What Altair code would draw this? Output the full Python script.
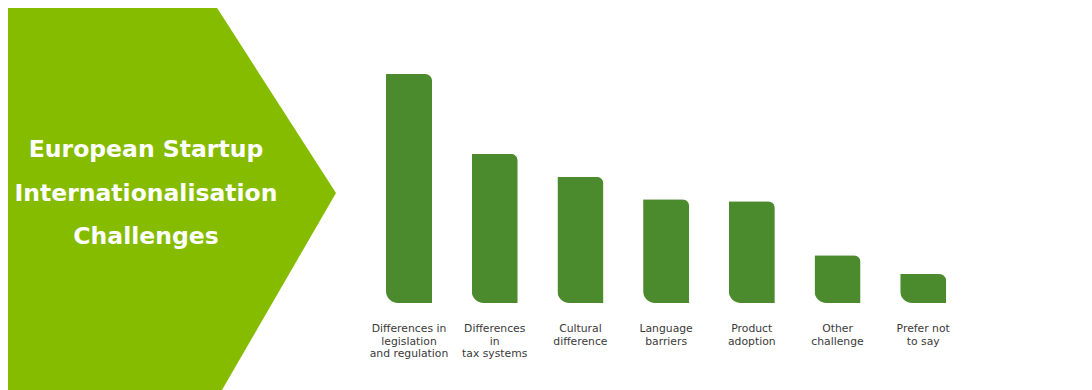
import altair as alt
import pandas as pd

# ---- data ----
categories = [
    "Differences in\nlegislation\nand regulation",
    "Differences\nin\ntax systems",
    "Cultural\ndifference",
    "Language\nbarriers",
    "Product\nadoption",
    "Other\nchallenge",
    "Prefer not\nto say",
]
values = [45.0, 29.3, 24.8, 20.4, 20.0, 9.4, 5.7]
title_lines = ["European Startup", "Internationalisation", "Challenges"]

df = pd.DataFrame({"cat": categories, "value": values})

# ---- styling ----
BAR_COLOR = "#4b8b2d"
ARROW_COLOR = "#86bc00"

# arrow (pentagon) decoration as a custom symbol path in unit coords
_verts = [(-20, 0), (212, 0), (336, 193), (222, 390), (-20, 390)]
_cx, _cy, _half = 168, 195, 195
arrow_path = "M" + " L".join(
    f"{(x - _cx) / _half:.4f},{(y - _cy) / _half:.4f}" for x, y in _verts
) + " Z"

xscale = alt.Scale(domain=categories, range=[378, 938.2], paddingInner=0.463, paddingOuter=0)
yscale = alt.Scale(domain=[0, 45], range=[295, 66])

arrow = alt.Chart(pd.DataFrame({"a": [0]})).mark_point(
    shape=arrow_path, filled=True, fill=ARROW_COLOR, strokeWidth=0, opacity=1
).encode(x=alt.value(160), y=alt.value(187), size=alt.value(2 * _half * 2 * _half))

title = alt.Chart(pd.DataFrame({"t": ["\n".join(title_lines)]})).mark_text(
    lineBreak="\n", align="center", baseline="middle", font="DejaVu Sans", fontWeight="bold",
    fontSize=23.5, lineHeight=43.5, color="white"
).encode(x=alt.value(138), y=alt.value(142), text="t:N")

bars = alt.Chart(df).mark_bar(
    color=BAR_COLOR, cornerRadiusTopRight=7, cornerRadiusBottomLeft=12
).encode(
    x=alt.X("cat:N", scale=xscale, axis=None, sort=None),
    y=alt.Y("value:Q", scale=yscale, axis=None),
)

labels = alt.Chart(df).mark_text(
    lineBreak="\n", align="center", baseline="top", font="DejaVu Sans", fontSize=10.8,
    lineHeight=12.5, color="#3a3a3a"
).encode(
    x=alt.X("cat:N", scale=xscale, axis=None, sort=None),
    y=alt.value(315),
    text="cat:N",
)

chart = alt.layer(arrow, title, bars, labels).properties(
    width=1076, height=295,
    autosize=alt.AutoSizeParams(type="none"),
    padding={"left": 0, "top": 0, "right": 0, "bottom": 87},
    background="white",
).configure_view(strokeWidth=0)

chart.save("out.html", embed_options={"renderer": "svg", "actions": False})
